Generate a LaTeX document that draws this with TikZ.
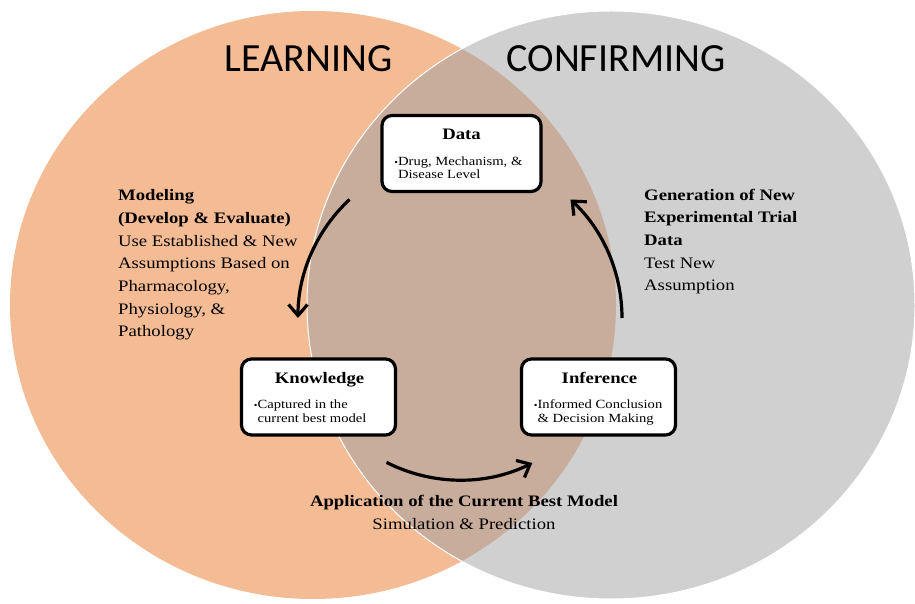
\documentclass[tikz,border=0pt]{standalone}
\usepackage{fontspec}
\setmainfont{Liberation Serif}[FakeStretch=1.17]
\newfontfamily\headfont{Carlito}
\usetikzlibrary{arrows.meta,calc,shadows}

\definecolor{learnfill}{HTML}{F4BC95}
\definecolor{confirmfill}{HTML}{D0D0D0}
\definecolor{overlapfill}{HTML}{C9AD9C}

% small bullet hanging to the left of the first line
\newcommand{\stagebullet}{\llap{\fontsize{9}{9}\selectfont\textbullet}}

\begin{document}
\begin{tikzpicture}[x=1pt,y=1pt,
  stagebox/.style={draw=black, line width=3.2pt, rounded corners=10pt, fill=white,
    minimum height=76pt, inner sep=0pt,
    drop shadow={shadow xshift=1.2pt, shadow yshift=-1.2pt, opacity=.35}},
  boxtitle/.style={anchor=base, inner sep=0pt, font=\fontsize{16}{18}\selectfont\bfseries},
  boxbullet/.style={anchor=base west, align=left, inner sep=0pt,
    font=\fontsize{12.5}{13.5}\selectfont},
  sidetext/.style={anchor=base west, align=left, inner sep=0pt,
    font=\fontsize{16}{22.7}\selectfont},
  phase/.style={anchor=base, inner sep=0pt, font=\headfont\fontsize{40}{40}\selectfont},
  cyclearrow/.style={line width=3.2pt, -{Straight Barb[length=11pt,width=19pt]}}
]
\useasboundingbox (0,0) rectangle (915,603);

% the two overlapping fields
\fill[learnfill] (313,298) ellipse [x radius=303pt, y radius=294pt];
\fill[confirmfill] (611,298) ellipse [x radius=304pt, y radius=294pt];
\begin{scope}
  \clip (313,298) ellipse [x radius=303pt, y radius=294pt];
  \fill[overlapfill] (611,298) ellipse [x radius=304pt, y radius=294pt];
\end{scope}
\draw[white, line width=1pt] (611,298) ellipse [x radius=304pt, y radius=294pt];

% phase headings
\node[phase] (learn) at (308.5,531) {LEARNING};
\node[phase] (confirm) at (616,531) {CONFIRMING};

% stages of the cycle
\node[stagebox, minimum width=159pt] (data) at (461.5,449.5) {};
\node[stagebox, minimum width=154pt] (know) at (318.5,206) {};
\node[stagebox, minimum width=154pt] (infer) at (598.5,206) {};

% (multi-line nodes are placed by the baseline of their last line)
\node[boxtitle] (dataT) at ($(data.center)+(0,13.5)$) {Data};
\node[boxbullet] (dataB) at ($(data.west)+(17.5,-25.5)$)
  {\stagebullet Drug, Mechanism, \&\\Disease Level};
\node[boxtitle] (knowT) at ($(know.center)+(1,14)$) {Knowledge};
\node[boxbullet] (knowB) at ($(know.west)+(17.5,-25)$)
  {\stagebullet Captured in the\\current best model};
\node[boxtitle] (inferT) at ($(infer.center)+(1,14)$) {Inference};
\node[boxbullet] (inferB) at ($(infer.west)+(17.5,-25)$)
  {\stagebullet Informed Conclusion\\\& Decision Making};

% transitions between stages
\coordinate (cyc) at (460,285);
\coordinate (modS) at ($(cyc)+(133:162pt)$);
\coordinate (appS) at ($(cyc)+(243:162pt)$);
\coordinate (genS) at ($(cyc)+(0:162pt)$);
\draw[cyclearrow] (modS) arc[start angle=133, end angle=180, radius=162pt];
\draw[cyclearrow] (appS) arc[start angle=243, end angle=296.5, radius=162pt];
\draw[cyclearrow] (genS) arc[start angle=0, end angle=47, radius=162pt];

% transition labels
\node[sidetext] (modL) at (118,266)
  {\textbf{Modeling}\\\textbf{(Develop \& Evaluate)}\\Use Established \& New\\
   Assumptions Based on\\Pharmacology,\\Physiology, \&\\Pathology};
\node[sidetext] (genL) at (644,312)
  {\textbf{Generation of New}\\\textbf{Experimental Trial}\\\textbf{Data}\\Test New\\Assumption};
\node[sidetext, anchor=base, align=center] (appL) at (464,74)
  {\textbf{Application of the Current Best Model}\\Simulation \& Prediction};
\end{tikzpicture}
\end{document}
